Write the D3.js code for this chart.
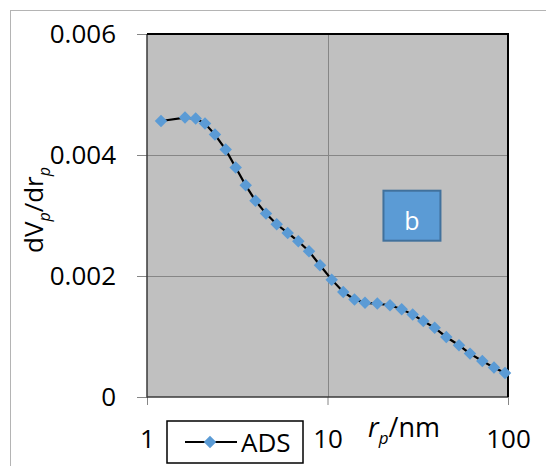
<!DOCTYPE html>
<html>
<head>
<meta charset="utf-8">
<script src="https://cdn.jsdelivr.net/npm/d3@7"></script>
<style>
  html, body { margin: 0; padding: 0; background: #ffffff; }
  svg text { font-family: "Open Sans", "Noto Sans", sans-serif; fill: #000; }
</style>
</head>
<body>
<svg id="chart" width="546" height="466"></svg>
<script>
// Pore radius r_p (nm) and differential pore volume dV_p/dr_p, adsorption branch
const poreRadius = [1.196, 1.624, 1.861, 2.096, 2.380, 2.729, 3.100, 3.523, 3.992, 4.563,
  5.231, 6.019, 6.890, 7.899, 9.088, 10.55, 12.23, 14.11, 16.14, 18.88,
  22.20, 25.77, 29.65, 33.95, 39.26, 45.51, 53.52, 61.59, 72.05, 83.62, 96.25];
const dVdr = [0.004562, 0.004618, 0.004602, 0.004519, 0.004337, 0.004089, 0.003792, 0.003499, 0.003243, 0.003031,
  0.002855, 0.002711, 0.002574, 0.002408, 0.002177, 0.001940, 0.001736, 0.001612, 0.001557, 0.001544,
  0.001516, 0.001450, 0.001362, 0.001256, 0.001144, 0.000992, 0.000855, 0.000717, 0.000595, 0.000486, 0.000397];
const seriesName = "ADS";
const xTicks = [1, 10, 100];
const xTickLabels = ["1", "10", "100"];
const yTicks = [0, 0.002, 0.004, 0.006];
const yTickLabels = ["0", "0.002", "0.004", "0.006"];
const panelLabel = "b";

const points = poreRadius.map((r, i) => ({ r: r, v: dVdr[i] }));

const svg = d3.select("#chart");
const plot = { left: 147, top: 34, right: 508, bottom: 397 };

const x = d3.scaleLog().domain([1, 100]).range([plot.left, plot.right]);
const y = d3.scaleLinear().domain([0, 0.006]).range([plot.bottom, plot.top]);

const blue = "#5b9bd5";
const gridGray = "#868686";

// outer chart border
svg.append("rect")
  .attr("x", 10.5).attr("y", 10.5)
  .attr("width", 600).attr("height", 600)
  .attr("fill", "none").attr("stroke", "#b4b4b4").attr("stroke-width", 1);

// plot area
svg.append("rect")
  .attr("x", plot.left).attr("y", plot.top)
  .attr("width", plot.right - plot.left).attr("height", plot.bottom - plot.top)
  .attr("fill", "#c0c0c0");

// gridlines
svg.append("g").selectAll("line")
  .data(yTicks.filter(t => t > 0 && t < 0.006))
  .join("line")
  .attr("x1", plot.left).attr("x2", plot.right)
  .attr("y1", d => Math.round(y(d)) + 0.5).attr("y2", d => Math.round(y(d)) + 0.5)
  .attr("stroke", gridGray).attr("stroke-width", 1);
svg.append("g").selectAll("line")
  .data(xTicks.filter(t => t > 1 && t < 100))
  .join("line")
  .attr("x1", d => Math.round(x(d)) + 0.5).attr("x2", d => Math.round(x(d)) + 0.5)
  .attr("y1", plot.top).attr("y2", plot.bottom)
  .attr("stroke", gridGray).attr("stroke-width", 1);

// y axis
const yAxis = d3.axisLeft(y)
  .tickValues(yTicks)
  .tickFormat((d, i) => yTickLabels[i])
  .tickSizeInner(10).tickSizeOuter(0).tickPadding(21);
const gy = svg.append("g").attr("transform", `translate(${plot.left},0)`).call(yAxis);
gy.select(".domain").remove();
gy.selectAll(".tick line").attr("stroke", gridGray);
gy.selectAll(".tick text").attr("font-size", 26).attr("font-family", "Open Sans").attr("fill", "#000");

// x axis
const xAxis = d3.axisBottom(x)
  .tickValues(xTicks)
  .tickFormat((d, i) => xTickLabels[i])
  .tickSizeInner(8).tickSizeOuter(0);
const gx = svg.append("g").attr("transform", `translate(0,${plot.bottom})`).call(xAxis);
gx.select(".domain").remove();
gx.selectAll(".tick line").attr("stroke", gridGray);
gx.selectAll(".tick text").attr("font-size", 26).attr("font-family", "Open Sans")
  .attr("fill", "#000").attr("y", 51).attr("dy", 0);

// frame: thin dark left/bottom axes, heavier black top/right
svg.append("line").attr("x1", plot.left).attr("x2", plot.left)
  .attr("y1", plot.top).attr("y2", plot.bottom + 0.5)
  .attr("stroke", "#3a3a3a").attr("stroke-width", 1.5);
svg.append("line").attr("x1", plot.left).attr("x2", plot.right)
  .attr("y1", plot.bottom).attr("y2", plot.bottom)
  .attr("stroke", "#3a3a3a").attr("stroke-width", 1.5);
svg.append("line").attr("x1", plot.left).attr("x2", plot.right + 1)
  .attr("y1", plot.top).attr("y2", plot.top)
  .attr("stroke", "#000").attr("stroke-width", 2);
svg.append("line").attr("x1", plot.right).attr("x2", plot.right)
  .attr("y1", plot.top).attr("y2", plot.bottom)
  .attr("stroke", "#000").attr("stroke-width", 2);

// data line and markers
const line = d3.line().x(d => x(d.r)).y(d => y(d.v));
svg.append("path").datum(points)
  .attr("d", line).attr("fill", "none")
  .attr("stroke", "#000").attr("stroke-width", 2.2);

const marker = d3.symbol(d3.symbolSquare, 78);
svg.append("g").selectAll("path")
  .data(points)
  .join("path")
  .attr("d", marker)
  .attr("transform", d => `translate(${x(d.r)},${y(d.v)}) rotate(45)`)
  .attr("fill", blue);

// panel label box
const bx = x(Math.pow(10, 1.31)), by = y(0.00341);
svg.append("rect")
  .attr("x", bx).attr("y", by)
  .attr("width", 57).attr("height", 50)
  .attr("fill", blue).attr("stroke", "#41719c").attr("stroke-width", 2);
svg.append("text")
  .attr("x", bx + 28.5).attr("y", by + 39)
  .attr("text-anchor", "middle")
  .attr("font-size", 25)
  .style("fill", "#ffffff")
  .text(panelLabel);

// y axis title: dV_p/dr_p
const yTitle = svg.append("text")
  .attr("transform", "translate(43,253) rotate(-90)")
  .attr("font-size", 26);
yTitle.append("tspan").text("dV");
yTitle.append("tspan").text("p").attr("font-style", "italic").attr("font-size", 16).attr("dy", 7);
yTitle.append("tspan").text("/dr").attr("dy", -7);
yTitle.append("tspan").text("p").attr("font-style", "italic").attr("font-size", 16).attr("dy", 7);

// x axis title: r_p/nm
const xTitle = svg.append("text")
  .attr("x", 368).attr("y", 437)
  .attr("font-size", 27);
xTitle.append("tspan").text("r").attr("font-style", "italic");
xTitle.append("tspan").text("p").attr("font-style", "italic").attr("font-size", 17).attr("dy", 7);
xTitle.append("tspan").text("/nm").attr("dy", -7);

// legend
const lg = svg.append("g");
lg.append("rect")
  .attr("x", 167).attr("y", 421).attr("width", 136).attr("height", 42)
  .attr("fill", "#ffffff").attr("stroke", "#000").attr("stroke-width", 1.5);
lg.append("line").attr("x1", 185).attr("x2", 237).attr("y1", 442).attr("y2", 442)
  .attr("stroke", "#000").attr("stroke-width", 2.2);
lg.append("path").attr("d", marker).attr("transform", "translate(210,442) rotate(45)").attr("fill", blue);
lg.append("text").attr("x", 241).attr("y", 452).attr("font-size", 26).text(seriesName);
</script>
</body>
</html>
